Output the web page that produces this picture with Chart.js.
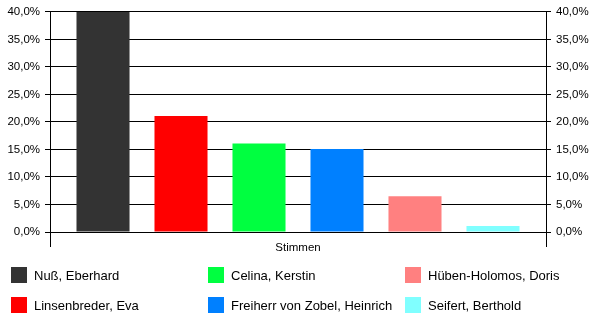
<!DOCTYPE html>
<html>
<head>
<meta charset="utf-8">
<script src="https://cdn.jsdelivr.net/npm/chart.js@4"></script>
<style>
  html, body { margin: 0; padding: 0; background: #fff; }
  #wrap { position: relative; width: 600px; height: 326px; overflow: hidden; }
  #c { position: absolute; left: 0; top: 0; }
  .lg { position: absolute; font-family: "Liberation Sans", Arial, sans-serif; font-size: 13px; color: #000; white-space: nowrap; }
  .sw { position: absolute; width: 16px; height: 16px; }
</style>
</head>
<body>
<div id="wrap">
  <canvas id="c" width="600" height="326"></canvas>
</div>
<script>
const categories = ['Stimmen'];
const candidates = ['Nuß, Eberhard', 'Linsenbreder, Eva', 'Celina, Kerstin', 'Freiherr von Zobel, Heinrich', 'Hüben-Holomos, Doris', 'Seifert, Berthold'];
const values = [40.0, 21.1, 16.1, 15.1, 6.5, 1.1];
const colors = ['#333333', '#ff0000', '#00ff40', '#0080ff', '#ff8080', '#80ffff'];
const yTicks = [0, 5, 10, 15, 20, 25, 30, 35, 40];

const fmt = v => v.toFixed(1).replace('.', ',') + '%';
const FONT = { family: '"Liberation Sans", Arial, sans-serif', size: 11.5 };
const XFONT = { family: '"Liberation Sans", Arial, sans-serif', size: 11.5 };

const datasets = candidates.map((name, i) => ({
  label: name,
  data: [values[i]],
  backgroundColor: colors[i],
  borderWidth: 0,
  categoryPercentage: 0.9435,
  barPercentage: 0.68
}));

const yCommon = {
  min: 0, max: 40,
  afterBuildTicks: s => { s.ticks = yTicks.map(v => ({ value: v })); },
  ticks: { color: '#000', font: FONT, padding: 5, callback: v => fmt(v) },
  border: { display: true, color: '#000', width: 1 },
};

new Chart(document.getElementById('c'), {
  type: 'bar',
  data: { labels: categories, datasets },
  options: {
    responsive: false,
    animation: false,
    devicePixelRatio: 1,
    layout: { padding: { top: 10, bottom: 71, left: 0, right: 0 } },
    plugins: { legend: { display: false }, tooltip: { enabled: false } },
    scales: {
      x: {
        offset: true,
        grid: { offset: true, drawOnChartArea: false, drawTicks: true, tickLength: 15, color: '#000' },
        border: { display: true, color: '#000' },
        ticks: { color: '#000', font: XFONT, padding: -6 },
        afterFit: s => { s.height = 23; }
      },
      y: Object.assign({}, yCommon, {
        position: 'left',
        grid: { color: '#000', tickLength: 5, drawOnChartArea: true },
        afterFit: s => { s.width = 50; }
      }),
      y2: Object.assign({}, yCommon, {
        position: 'right',
        grid: { color: '#000', tickLength: 5, drawOnChartArea: false },
        afterFit: s => { s.width = 54; }
      })
    }
  }
});

// HTML legend, column-major like the reference
const wrap = document.getElementById('wrap');
const colX = [11, 208, 405];
const rowY = [267, 297];
candidates.forEach((name, i) => {
  const col = Math.floor(i / 2), row = i % 2;
  const sw = document.createElement('div');
  sw.className = 'sw';
  sw.style.left = colX[col] + 'px';
  sw.style.top = rowY[row] + 'px';
  sw.style.background = colors[i];
  wrap.appendChild(sw);
  const t = document.createElement('div');
  t.className = 'lg';
  t.textContent = name;
  t.style.left = (colX[col] + 23) + 'px';
  t.style.top = (rowY[row] + 8) + 'px';
  t.style.transform = 'translateY(-50%)';
  wrap.appendChild(t);
});
</script>
</body>
</html>
